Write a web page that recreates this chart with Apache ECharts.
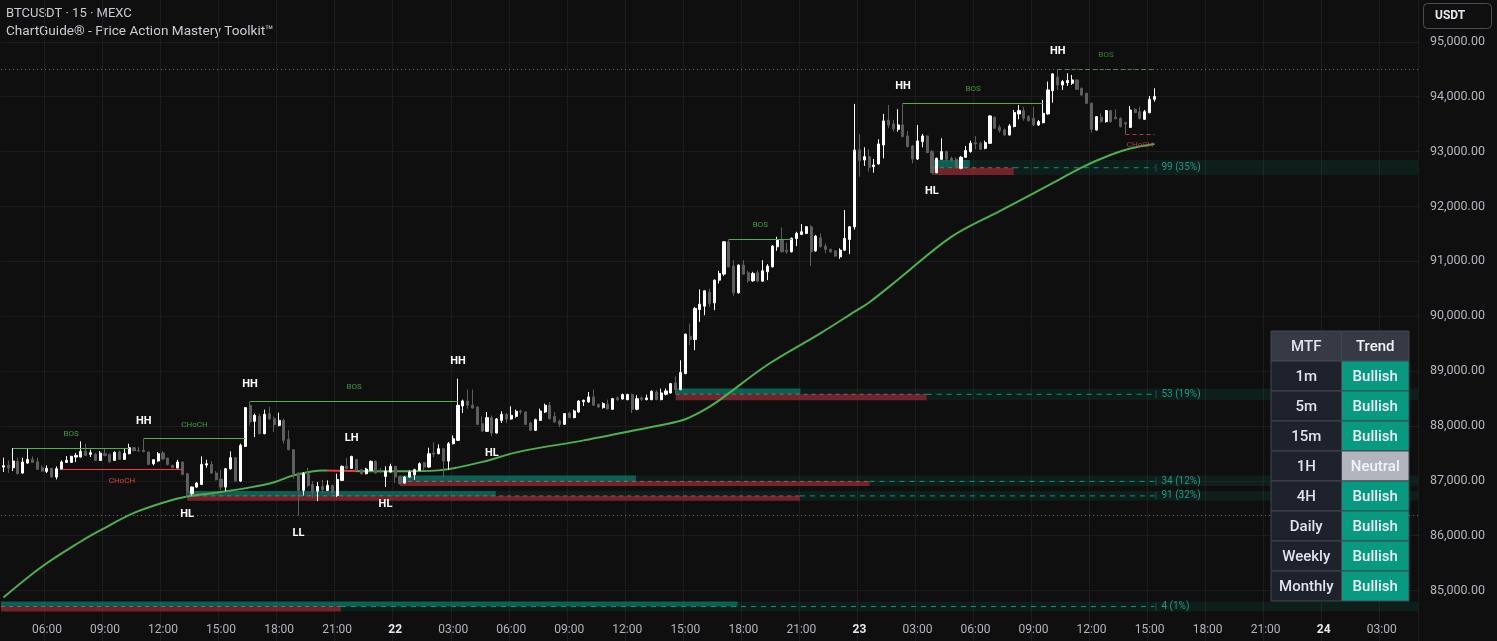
<!DOCTYPE html>
<html><head><meta charset="utf-8">
<script src="https://cdn.jsdelivr.net/npm/echarts@6/dist/echarts.min.js"></script>
<style>html,body{margin:0;padding:0;background:#0f0f0f;}#c{width:1497px;height:641px;}</style>
</head><body><div id="c"></div>
<script>
// ---- candle data (15m, from day 21 03:45) ----
const opens = [87250,87281,87238,87354,87141,87323,87390,87348,87238,87171,87226,87068,87208,87336,87336,87433,87433,87536,87482,87482,87372,87494,87482,87372,87524,87390,87494,87603,87555,87555,
87524,87311,87360,87506,87415,87281,87232,87342,87129,86764,86886,86934,87287,87299,87141,87031,86886,87220,87421,86995,87628,88376,88084,88175,87859,88224,88132,88011,88102,87755,
87567,87141,86825,87129,86934,86812,86898,86825,86916,86733,87007,87263,87226,87390,87202,87129,87190,87354,87190,87080,87159,87263,87080,86958,87068,87111,87190,87330,87250,87506,
87494,87585,87360,87676,87737,88364,88455,88382,88345,88041,87901,88151,87871,88102,88211,88126,88175,88272,88254,88053,87920,88102,88254,88376,88175,88090,88029,88236,88151,88254,
88443,88437,88528,88394,88333,88394,88303,88510,88491,88479,88571,88303,88510,88479,88479,88619,88479,88577,88601,88784,88662,88954,89635,89574,90122,90183,90438,90243,90657,90767,
91357,90913,90426,90931,90791,90645,90791,90639,90809,90900,91265,91399,91204,91174,91417,91490,91509,91630,91192,91430,91278,91217,91192,91083,91204,91399,91630,93030,92847,92908,
92725,92774,93121,93577,93504,93407,93486,93285,93103,92865,93182,93285,93000,92616,92859,93000,92878,92859,92695,92896,93000,93164,93151,93060,93151,93626,93443,93395,93303,93456,
93686,93746,93637,93606,93485,93527,93686,94111,94355,94215,94257,94245,94306,94154,94063,93880,93394,93625,93546,93746,93625,93606,93527,93442,93771,93728,93588,93710,93953];
const highs = [87421,87372,87597,87421,87421,87585,87445,87421,87281,87281,87238,87263,87372,87451,87457,87506,87719,87676,87567,87506,87543,87585,87494,87536,87555,87585,87676,87615,87615,87767,
87536,87390,87524,87543,87421,87293,87384,87354,87141,86898,86977,87445,87384,87360,87177,87202,87232,87536,87433,87676,88345,88449,88224,88224,88297,88345,88175,88242,88132,87920,
87579,87153,87159,87238,86995,86977,87019,87007,86934,87129,87281,87415,87457,87396,87214,87238,87372,87372,87238,87263,87311,87275,87093,87086,87190,87220,87336,87342,87603,87701,
87664,87603,87707,87828,88862,88479,88662,88662,88357,88175,88254,88193,88145,88266,88236,88358,88297,88297,88266,88072,88132,88315,88406,88437,88254,88114,88236,88254,88297,88467,
88479,88619,88662,88406,88431,88479,88510,88540,88589,88589,88589,88558,88540,88571,88650,88650,88680,88680,88784,88905,89197,89684,89866,90170,90487,90475,90505,90669,90827,91369,
91399,91022,90943,91022,90827,90809,90839,91022,90949,91296,91448,91618,91338,91436,91539,91679,91643,91661,91478,91509,91326,91235,91204,91235,91934,91643,93869,93322,93078,93042,
92865,93224,93687,93851,93577,93772,93881,93376,93121,93486,93322,93297,93030,92890,93243,93018,92908,92896,92920,93103,93200,93285,93182,93200,93662,93638,93486,93425,93504,93760,
93850,93819,93667,93819,93576,93941,94276,94428,94501,94306,94428,94397,94318,94172,94075,93892,93649,93698,93759,93759,93771,93625,93546,93831,93789,93819,93759,94014,94154];
const lows = [87159,87141,87177,87117,87129,87311,87330,87202,87159,87141,87056,87025,87202,87323,87330,87342,87421,87451,87433,87360,87366,87445,87323,87366,87384,87384,87482,87536,87536,87524,
87287,87281,87348,87384,87281,87226,87226,87104,86703,86733,86873,86922,87238,87129,87007,86825,86812,87202,86977,86977,87615,88011,87798,87847,87847,88114,87889,87993,87676,87555,
87038,86368,86733,86886,86691,86630,86776,86812,86764,86703,86995,87214,87214,87177,87117,87117,87177,87129,87141,86886,87147,86958,86934,86946,87056,87019,87177,87190,87238,87433,
87482,87068,87202,87664,87725,88236,88315,88315,88017,87895,87889,87816,87859,88053,88053,88114,88151,88211,88017,87907,87907,88090,88236,88120,88053,87980,88017,88139,88139,88242,
88364,88424,88364,88327,88315,88297,88297,88455,88479,88467,88236,88285,88455,88467,88467,88467,88467,88558,88589,88589,88650,88942,89471,89380,89897,90018,90170,90110,90596,90736,
90888,90371,90414,90754,90608,90627,90627,90627,90657,90888,91192,91162,91132,91162,91278,91478,91497,90913,91174,91253,91144,91156,91083,91046,91192,91132,91580,92543,92738,92634,
92616,92768,92878,93425,93364,93364,93261,93078,92786,92847,93078,92969,92604,92604,92847,92817,92817,92695,92677,92884,92981,93042,93030,93042,93139,93413,93346,93285,93291,93443,
93589,93564,93546,93467,93467,93515,93674,93892,94124,94124,94197,94215,94124,94014,93868,93345,93381,93527,93527,93527,93588,93442,93321,93430,93698,93588,93576,93698,93911];
const closes = [87275,87238,87360,87129,87342,87390,87336,87208,87177,87226,87068,87220,87342,87372,87445,87463,87536,87463,87512,87372,87506,87463,87348,87518,87390,87500,87603,87549,87543,87530,
87299,87384,87494,87396,87299,87238,87342,87117,86794,86886,86959,87299,87311,87141,87019,86886,87220,87421,86995,87646,88333,88072,88193,87859,88211,88126,88023,88102,87737,87567,
87129,86825,87129,86916,86794,86898,86837,86916,86776,87025,87263,87226,87445,87190,87129,87214,87354,87141,87177,87171,87263,87068,86946,87068,87159,87202,87311,87250,87494,87482,
87585,87360,87676,87767,88376,88455,88376,88327,88029,87907,88151,87871,88126,88211,88126,88193,88266,88254,88029,87920,88114,88272,88376,88132,88072,88029,88224,88151,88272,88455,
88467,88528,88376,88345,88406,88309,88497,88479,88571,88571,88303,88497,88485,88510,88631,88479,88601,88638,88771,88662,88972,89672,89574,90140,90219,90462,90231,90657,90779,91357,
90900,90426,90931,90767,90645,90779,90639,90827,90913,91278,91387,91174,91174,91417,91509,91539,91630,91174,91460,91265,91217,91174,91095,91204,91417,91630,93029,92835,92908,92713,
92756,93139,93559,93486,93413,93486,93273,93090,92865,93194,93285,92981,92616,92878,93000,92859,92835,92713,92896,93018,93151,93139,93042,93164,93650,93425,93382,93303,93468,93711,
93746,93606,93564,93485,93546,93698,94124,94416,94215,94276,94294,94306,94136,94032,93880,93406,93637,93546,93746,93546,93600,93454,93503,93759,93710,93606,93728,93953,94002];

// ---- moving average (read at selected candles) ----
const maIdx = [0,8,16,20,27,34,38,44,51,56,60,66,75,82,90,94,99,107,120,134,140,144,148,158,169,176,179,185,196,206,218,223,229,233,238];
const maVal = [84872,85438,85894,86095,86414,86628,86715,86783,86880,86974,87099,87190,87172,87172,87190,87245,87345,87536,87737,87982,88093,88248,88467,89115,89692,90082,90250,90668,91447,91916,92474,92714,92942,93057,93139];
const maRedFrom = 66.5, maRedTo = 72.5;

// ---- swing labels ----
const swingAboveIdx = [29,51,72,94,186,218];
const swingAboveText = ['HH','HH','LH','HH','HH','HH'];
const swingBelowIdx = [38,61,79,101,192];
const swingBelowText = ['HL','LL','HL','HL','HL'];

// ---- structure breaks ----
const structFrom = [2,29,12,51,150,186,218,232];
const structTo   = [26,50,37,94,163,215,238,238];
const structKind = ['BOS','CHoCH','CHoCH','BOS','BOS','BOS','BOS','CHoCH'];
const structSide = ['H','H','L','H','H','H','H','L'];
const structDash = [0,0,0,0,0,0,1,1];
const extremeHighIdx = 218, extremeLowIdx = 61;

// ---- zones ----
const zoneAnchor  = [192,139,82,38,0];
const zoneStart   = [192,139,82,38,-0.5];
const zoneTealEnd = [199.8,164.8,130.8,101.8,151.8];
const zoneRedEnd  = [208.9,190.9,179.1,164.7,69.8];
const zoneTop = [92847,88681,87095,86815,84799];
const zoneMid = [92706,88577,86990,86725,84708];
const zoneBot = [92573,88467,86905,86635,84617];
const zoneLabel = ['99 (35%)','53 (19%)','34 (12%)','91 (32%)','4 (1%)'];

// ---- table ----
const tableHead = ['MTF','Trend'];
const tableTF = ['1m','5m','15m','1H','4H','Daily','Weekly','Monthly'];
const tableTrend = ['Bullish','Bullish','Bullish','Neutral','Bullish','Bullish','Bullish','Bullish'];

// ---- time categories ----
const categories = [];
(function(){ let d=21,h=3,m=45; for(let k=0;k<293;k++){ categories.push(d+' '+String(h).padStart(2,'0')+':'+String(m).padStart(2,'0')); m+=15; if(m===60){m=0;h++; if(h===24){h=0;d++;}} } })();
function showTick(idx,val){ const t=String(val).split(' ')[1]; const p=t.split(':'); return +p[1]===0 && (+p[0])%3===0; }

const FONT = 'Roboto, "Liberation Sans", sans-serif';
const GREEN='#4caf50', RED='#f23645';
const lastIdx = closes.length-1;

const chart = echarts.init(document.getElementById('c'), null, {renderer:'canvas'});

const structData = structFrom.map((f,k)=>{
  const hi = structSide[k]==='H';
  const price = hi ? highs[f] : lows[f];
  return [{coord:[f,price], lineStyle:{color: hi?GREEN:RED, width:1, type: structDash[k]?[4,3]:'solid', opacity: structDash[k]?0.8:1},
           label:{show:true, formatter:structKind[k], position: hi?'insideMiddleTop':'insideMiddleBottom', distance: hi?10:7,
                  color: hi?'#3f9c43':'#d9423f', fontSize:8, fontFamily:FONT}},
          {coord:[structTo[k],price]}];
});
structData.push({yAxis: highs[extremeHighIdx], lineStyle:{color:'#6e6e6e', width:1, type:[1,3]}, label:{show:false}});
structData.push({yAxis: lows[extremeLowIdx], lineStyle:{color:'#6e6e6e', width:1, type:[1,3]}, label:{show:false}});

function zoneRender(params, api){
  const bw = api.size([1,0])[0];
  const xAt = v => { const f=Math.floor(v); return api.coord([f, api.value(5)])[0] + (v-f)*bw; };
  const yOf = v => api.coord([api.value(0), v])[1];
  const xs = xAt(api.value(1)), xt = xAt(api.value(2)), xr = xAt(api.value(3));
  const yt = yOf(api.value(4)), ym = yOf(api.value(5)), yb = yOf(api.value(6));
  const cs = params.coordSys; const right = cs.x + cs.width;
  const xl = api.coord([lastIdx, api.value(5)])[0];
  return {type:'group', children:[
    {type:'rect', shape:{x:xs, y:yt, width:right-xs, height:yb-yt}, style:{fill:'rgba(8,153,129,0.11)'}},
    {type:'rect', shape:{x:xs, y:yt, width:xt-xs, height:ym-yt}, style:{fill:'rgba(8,153,129,0.55)'}},
    {type:'rect', shape:{x:xs, y:ym, width:xr-xs, height:yb-ym}, style:{fill:'rgba(178,40,51,0.62)'}},
    {type:'line', shape:{x1:xs, y1:ym, x2:xr, y2:ym}, style:{stroke:'rgba(160,160,160,0.55)', lineWidth:1, lineDash:[4,4]}},
    {type:'line', shape:{x1:xr, y1:ym, x2:xl, y2:ym}, style:{stroke:'#089981', lineWidth:1, lineDash:[5,5]}},
    {type:'line', shape:{x1:xl+1.5, y1:ym-4, x2:xl+1.5, y2:ym+4}, style:{stroke:'rgba(8,153,129,0.5)', lineWidth:1}},
    {type:'text', style:{x:xl+7, y:ym, text:zoneLabel[params.dataIndex], fill:'#1f9c89', font:'10px '+FONT, verticalAlign:'middle'}}
  ]};
}

const graphics = [
  {type:'text', style:{x:6, y:14, text:'BTCUSDT · 15 · MEXC', fill:'#c9ccd4', font:'13px '+FONT, verticalAlign:'middle'}},
  {type:'text', style:{x:6, y:32, text:'ChartGuide® - Price Action Mastery Toolkit™', fill:'#c9ccd4', font:'13.6px '+FONT, verticalAlign:'middle'}},
  {type:'rect', shape:{x:1423.5, y:3.5, width:68, height:25, r:4}, style:{fill:'#0f0f0f', stroke:'#4a4d55', lineWidth:1}},
  {type:'text', style:{x:1435, y:16, text:'USDT', fill:'#e6e8ee', font:'bold 12px '+FONT, verticalAlign:'middle'}}
];
(function(){
  const x0=1271, y0=331, w1=70.5, w2=67.5, rh=30;
  const rows = [[tableHead[0], tableHead[1], 'h']].concat(tableTF.map((t,i)=>[t, tableTrend[i], 'b']));
  rows.forEach((r,i)=>{
    const y = y0 + i*rh;
    const bgL = r[2]==='h' ? '#363a45' : '#1e222d';
    const bgR = r[2]==='h' ? '#363a45' : (r[1]==='Bullish' ? '#089981' : '#b2b5be');
    graphics.push({type:'rect', z:50, shape:{x:x0, y:y, width:w1, height:rh}, style:{fill:bgL, stroke:'#434651', lineWidth:1}});
    graphics.push({type:'rect', z:50, shape:{x:x0+w1, y:y, width:w2, height:rh}, style:{fill:bgR, stroke:'#434651', lineWidth:1}});
    graphics.push({type:'text', z:51, style:{x:x0+w1/2, y:y+rh/2+1, text:r[0], fill:'#e0e3eb', font:'500 15px '+FONT, align:'center', verticalAlign:'middle'}});
    graphics.push({type:'text', z:51, style:{x:x0+w1+w2/2, y:y+rh/2+1, text:r[1], fill:'#f0f3fa', font:'500 15px '+FONT, align:'center', verticalAlign:'middle'}});
  });
})();

function fmtPrice(v){ return String(Math.round(v)).replace(/\B(?=(\d{3})+(?!\d))/g, ',') + '.00'; }

const swingLabel = {show:true, distance:11, color:'#ffffff', fontSize:11, fontWeight:'bold', fontFamily:FONT, opacity:1, formatter:p=>p.data[2]};

chart.setOption({
  backgroundColor:'#0f0f0f',
  animation:false,
  textStyle:{fontFamily:FONT},
  grid:{left:1, right:79, top:-13, bottom:-4.4, containLabel:false, outerBoundsMode:'none'},
  xAxis:{type:'category', data:categories, boundaryGap:true, offset:-21,
    axisLine:{show:false}, axisTick:{show:false},
    axisLabel:{interval:showTick, margin:0, color:'#b2b5be', fontSize:12, fontFamily:FONT,
      formatter:(val)=>{ const p=val.split(' '); return p[1]==='00:00' ? '{b|'+p[0]+'}' : p[1]; },
      rich:{b:{fontWeight:'bold', color:'#e6e8ee', fontSize:12, fontFamily:FONT}}},
    splitLine:{show:true, interval:showTick, lineStyle:{color:'#1d1d1d', width:1}}},
  yAxis:{type:'value', position:'right', min:84000, max:96000, interval:1000,
    axisLine:{show:false}, axisTick:{show:false},
    axisLabel:{formatter:fmtPrice, color:'#b2b5be', fontSize:12.5, margin:12, fontFamily:FONT, showMinLabel:false, showMaxLabel:false},
    splitLine:{lineStyle:{color:'#1d1d1d', width:1}}},
  visualMap:[{type:'piecewise', show:false, seriesIndex:1, dimension:0,
    pieces:[{gte:maRedFrom, lte:maRedTo, color:RED}], outOfRange:{color:GREEN}}],
  graphic:graphics,
  series:[
    {type:'custom', name:'zones', z:1, clip:true, renderItem:zoneRender,
      encode:{x:0, y:5},
      data: zoneAnchor.map((a,k)=>[a, zoneStart[k], zoneTealEnd[k], zoneRedEnd[k], zoneTop[k], zoneMid[k], zoneBot[k]])},
    {type:'line', name:'ma', z:2, smooth:0.35, showSymbol:false, symbol:'none',
      lineStyle:{width:2}, data: maIdx.map((i,k)=>[i, maVal[k]])},
    {type:'candlestick', name:'BTCUSDT', z:3, barWidth:2.6,
      itemStyle:{color:'#ffffff', color0:'#5e5e5e', borderColor:'#ffffff', borderColor0:'#5e5e5e', borderWidth:1},
      data: opens.map((o,i)=>[o, closes[i], lows[i], highs[i]]),
      markLine:{silent:true, symbol:['none','none'], animation:false, data:structData}},
    {type:'scatter', name:'swingHi', z:5, symbol:'circle', symbolSize:2, itemStyle:{color:'#0f0f0f', opacity:0.01}, silent:true,
      label:Object.assign({position:'top'}, swingLabel),
      data: swingAboveIdx.map((i,k)=>[i, highs[i], swingAboveText[k]])},
    {type:'scatter', name:'swingLo', z:5, symbol:'circle', symbolSize:2, itemStyle:{color:'#0f0f0f', opacity:0.01}, silent:true,
      label:Object.assign({position:'bottom'}, swingLabel),
      data: swingBelowIdx.map((i,k)=>[i, lows[i], swingBelowText[k]])}
  ]
});
</script></body></html>
